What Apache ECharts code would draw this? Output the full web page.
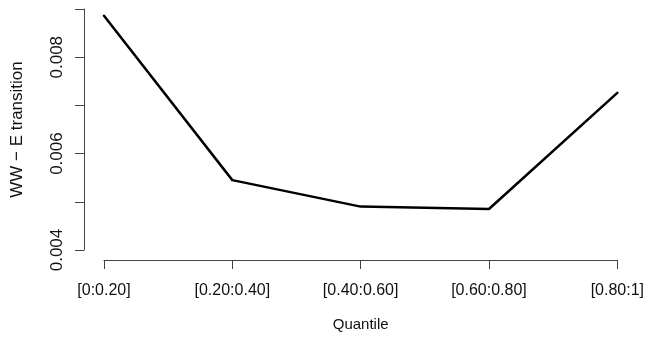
<!DOCTYPE html>
<html>
<head>
<meta charset="utf-8">
<script src="https://cdn.jsdelivr.net/npm/echarts@6/dist/echarts.min.js"></script>
<style>html,body{margin:0;padding:0;background:#fff}#c{width:647px;height:337px}</style>
</head>
<body>
<div id="c"></div>
<script>
const categories = ['[0:0.20]', '[0.20:0.40]', '[0.40:0.60]', '[0.60:0.80]', '[0.80:1]'];
const values = [0.00886, 0.00545, 0.0049, 0.00485, 0.00726];
const yTicks = [0.004, 0.005, 0.006, 0.007, 0.008, 0.009];
const yLabelsShown = ['0.004', '0.006', '0.008'];
const xTitle = 'Quantile';
const yTitle = 'WW \u2212 E transition';

const chart = echarts.init(document.getElementById('c'), null, {renderer: 'canvas'});
const font = 'Liberation Sans, Arial, Helvetica, sans-serif';
chart.setOption({
  animation: false,
  backgroundColor: '#ffffff',
  grid: {left: 104, right: 29, top: 9, bottom: 84, containLabel: false},
  xAxis: {
    type: 'category',
    data: categories,
    boundaryGap: false,
    offset: 10,
    axisLine: {show: true, lineStyle: {color: '#444', width: 1}},
    axisTick: {show: true, length: 9, inside: false, lineStyle: {color: '#444', width: 1}},
    axisLabel: {show: true, margin: 23, fontSize: 16, fontFamily: font, color: '#111', interval: 0},
    splitLine: {show: false},
    name: xTitle,
    nameLocation: 'middle',
    nameGap: 57,
    nameTextStyle: {fontSize: 15, fontFamily: font, color: '#111'}
  },
  yAxis: {
    type: 'value',
    min: yTicks[0],
    max: yTicks[yTicks.length - 1],
    interval: 0.001,
    offset: 20,
    axisLine: {show: true, lineStyle: {color: '#444', width: 1}},
    axisTick: {show: true, length: 9, inside: false, lineStyle: {color: '#444', width: 1}},
    axisLabel: {
      show: true, rotate: 90, margin: 18, fontSize: 17, fontFamily: font, color: '#111',
      formatter: function (v) {
        const s = v.toFixed(3);
        return yLabelsShown.indexOf(s) >= 0 ? s : '';
      }
    },
    splitLine: {show: false},
    name: yTitle,
    nameLocation: 'middle',
    nameGap: 58,
    nameTextStyle: {fontSize: 17, fontFamily: font, color: '#111'}
  },
  series: [{
    type: 'line',
    data: values,
    showSymbol: false,
    symbol: 'none',
    lineStyle: {color: '#000', width: 2.5, cap: 'round', join: 'round'},
    silent: true
  }]
});
</script>
</body>
</html>
